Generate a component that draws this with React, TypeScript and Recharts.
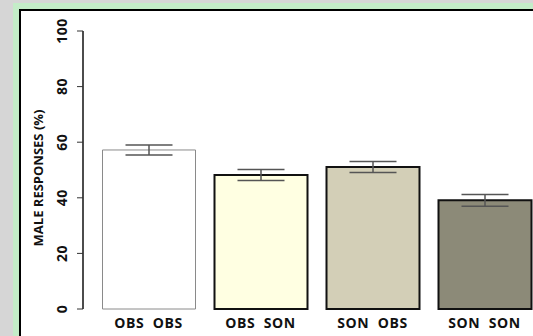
import React from "react";
import { BarChart, Bar, XAxis, YAxis, Cell, ErrorBar } from "recharts";

const categories = ["OBS  OBS", "OBS  SON", "SON  OBS", "SON  SON"];
const responses = [57.2, 48.2, 51.1, 39.1];
const errors = [1.8, 2.0, 2.0, 2.1];
const yTicks = [0, 20, 40, 60, 80, 100];
const fills = ["#ffffff", "#ffffe2", "#d3cfb7", "#8c8a78"];
const strokes = ["#8a8a8a", "#111111", "#111111", "#111111"];
const strokeWidths = [1, 2, 2, 2];

const data = categories.map((c, i) => ({ name: c, value: responses[i], err: errors[i] }));

const FONT = "'Open Sans', 'DejaVu Sans', sans-serif";

const XTick = (props: any) => {
  const { x, y, payload } = props;
  return (
    <text x={x} y={y} dy={19} textAnchor="middle" fontFamily={FONT} fontWeight={700} fontSize={14} letterSpacing={0.6} fill="#111" style={{ whiteSpace: "pre" }} xmlSpace="preserve">
      {payload.value}
    </text>
  );
};

const YTick = (props: any) => {
  const { y, payload } = props;
  const cx = 67;
  return (
    <text x={cx} y={y} transform={`rotate(-90, ${cx}, ${y})`} textAnchor="middle" fontFamily={FONT} fontWeight={700} fontSize={14} letterSpacing={0.5} fill="#111">
      {payload.value}
    </text>
  );
};

export default function App() {
  return (
    <div style={{ position: "absolute", left: 0, top: 0, width: 533, height: 336, overflow: "hidden", background: "#d6d6d6" }}>
      <div style={{ position: "absolute", left: 13, top: 3, width: 600, height: 400, background: "#c4ecc8" }} />
      <div style={{ position: "absolute", left: 19, top: 9, width: 600, height: 400, background: "#000" }} />
      <div style={{ position: "absolute", left: 21, top: 11, width: 600, height: 400, background: "#fff" }} />
      <div style={{ position: "absolute", left: 0, top: 0 }}>
        <BarChart width={560} height={336} data={data} margin={{ top: 31, right: 19.5, bottom: 0, left: 0 }} barSize={93}>
          <XAxis dataKey="name" height={27} axisLine={false} tickLine={false} tickSize={0} tickMargin={0} padding={{ left: 9.5, right: 0 }} tick={<XTick />} interval={0} />
          <YAxis
            width={83}
            domain={[0, 100]}
            ticks={yTicks}
            type="number"
            axisLine={{ stroke: "#111", strokeWidth: 1.5 }}
            tickLine={{ stroke: "#333", strokeWidth: 1 }}
            tickSize={6}
            tick={<YTick />}
            label={{
              content: () => (
                <text x={43} y={178} transform="rotate(-90, 43, 178)" textAnchor="middle" fontFamily={FONT} fontWeight={700} fontSize={13} fill="#111">
                  MALE RESPONSES (%)
                </text>
              ),
            }}
          />
          <Bar dataKey="value" isAnimationActive={false}>
            {data.map((d, i) => (
              <Cell key={d.name} fill={fills[i]} stroke={strokes[i]} strokeWidth={strokeWidths[i]} />
            ))}
            <ErrorBar dataKey="err" width={23.5} stroke="#555" strokeWidth={1.5} direction="y" />
          </Bar>
        </BarChart>
      </div>
    </div>
  );
}
